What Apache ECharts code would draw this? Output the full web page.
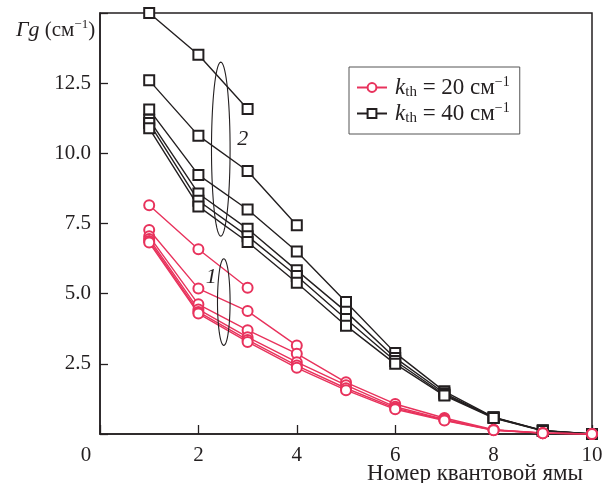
<!DOCTYPE html>
<html><head><meta charset="utf-8">
<script src="https://cdn.jsdelivr.net/npm/echarts@6/dist/echarts.min.js"></script>
<style>html,body{margin:0;padding:0;background:#fff}#c{width:603px;height:483px}</style>
</head><body><div id="c"></div>
<script>
// Quantum well number
const wells = [1, 2, 3, 4, 5, 6, 7, 8, 9, 10];
// k_th = 20 cm^-1 (group 1)
const red1 = [8.15, 6.58, 5.21];
const red2 = [7.27, 5.18, 4.38, 3.15];
const red3 = [7.05, 4.62, 3.70, 2.86, 1.84, 1.07, 0.57, 0.15, 0.04, 0.0];
const red4 = [6.95, 4.44, 3.45, 2.56, 1.74, 0.97, 0.52, 0.14, 0.03, 0.0];
const red5 = [6.88, 4.35, 3.35, 2.44, 1.63, 0.92, 0.50, 0.14, 0.03, 0.0];
const red6 = [6.82, 4.29, 3.28, 2.36, 1.56, 0.88, 0.48, 0.13, 0.03, 0.0];
// k_th = 40 cm^-1 (group 2)
const blk1 = [15.0, 13.51, 11.58];
const blk2 = [12.6, 10.63, 9.37, 7.44];
const blk3 = [11.56, 9.23, 8.00, 6.50, 4.70, 2.89, 1.52, 0.60, 0.13, 0.0];
const blk4 = [11.20, 8.57, 7.31, 5.83, 4.36, 2.71, 1.45, 0.59, 0.12, 0.0];
const blk5 = [11.08, 8.31, 7.05, 5.63, 4.10, 2.60, 1.40, 0.58, 0.12, 0.0];
const blk6 = [10.89, 8.11, 6.84, 5.39, 3.86, 2.50, 1.37, 0.57, 0.11, 0.0];
// axis ticks
const xTicks = [0, 2, 4, 6, 8, 10];
const yTicks = [2.5, 5.0, 7.5, 10.0, 12.5];
const xName = 'Номер квантовой ямы';

const RED = '#e8325c', BLK = '#231f20';
const FONT = 'Liberation Serif';

function mk(name, vals, color, sym) {
  return {
    type: 'line', name: name,
    data: vals.map((v, i) => [wells[i], v]),
    symbol: sym, symbolSize: 10,
    lineStyle: { color: color, width: 1.4 },
    itemStyle: { color: color, borderColor: color, borderWidth: 1.5 },
    emphasis: { disabled: true },
    animation: false
  };
}

const series = [
  mk('k40', blk1, BLK, 'emptyRect'), mk('k40', blk2, BLK, 'emptyRect'),
  mk('k40', blk3, BLK, 'emptyRect'), mk('k40', blk4, BLK, 'emptyRect'),
  mk('k40', blk5, BLK, 'emptyRect'), mk('k40', blk6, BLK, 'emptyRect'),
  mk('k20', red1, RED, 'emptyCircle'), mk('k20', red2, RED, 'emptyCircle'),
  mk('k20', red3, RED, 'emptyCircle'), mk('k20', red4, RED, 'emptyCircle'),
  mk('k20', red5, RED, 'emptyCircle'), mk('k20', red6, RED, 'emptyCircle')
];

const chart = echarts.init(document.getElementById('c'), null, { renderer: 'canvas' });
const richLeg = {
  k: { fontFamily: FONT, fontStyle: 'italic', fontSize: 23, color: '#231f20', lineHeight: 25 },
  s: { fontFamily: FONT, fontSize: 15, color: '#231f20', lineHeight: 14, verticalAlign: 'bottom' },
  t: { fontFamily: FONT, fontSize: 23, color: '#231f20', lineHeight: 25 },
  p: { fontFamily: FONT, fontSize: 14, color: '#231f20', lineHeight: 12, verticalAlign: 'top' }
};
chart.setOption({
  animation: false,
  backgroundColor: '#fff',
  title: {
    left: 11, top: 13,
    text: '{i|Γg}{t| (см}{p|−1}{t|)}',
    textStyle: {
      fontWeight: 'normal',
      rich: {
        i: { fontFamily: FONT, fontStyle: 'italic', fontWeight: 'normal', fontSize: 22, color: '#231f20', lineHeight: 24 },
        t: { fontFamily: FONT, fontWeight: 'normal', fontSize: 21, color: '#231f20', lineHeight: 24 },
        p: { fontFamily: FONT, fontWeight: 'normal', fontSize: 13, color: '#231f20', lineHeight: 12, verticalAlign: 'top' }
      }
    }
  },
  grid: { left: 100, right: 11, top: 13, bottom: 49, containLabel: false, outerBoundsMode: 'none', show: true, borderColor: '#231f20', borderWidth: 1.5, backgroundColor: 'transparent' },
  legend: {
    data: ['k20', 'k40'],
    orient: 'vertical', left: 349, top: 67,
    padding: [8, 10, 8, 7],
    itemGap: 1, itemWidth: 30, itemHeight: 11,
    borderColor: '#555', borderWidth: 1,
    selectedMode: false,
    formatter: n => n === 'k20' ? '{k|k}{s|th}{t| = 20 см}{p|−1}' : '{k|k}{s|th}{t| = 40 см}{p|−1}',
    textStyle: { rich: richLeg, padding: [0, 0, 0, 3] }
  },
  xAxis: {
    type: 'value', min: 0, max: 10, interval: 2,
    axisLine: { lineStyle: { color: '#231f20', width: 1.5 } },
    axisTick: { inside: true, length: 9, lineStyle: { color: '#231f20', width: 1.3 } },
    splitLine: { show: false },
    axisLabel: {
      margin: 11, fontFamily: FONT, fontSize: 21, color: '#231f20',
      formatter: v => xTicks.indexOf(v) < 0 ? '' : (v === 0 ? '{z|0}' : String(v)),
      rich: { z: { fontFamily: FONT, fontSize: 21, color: '#231f20', padding: [0, 28, 0, 0] } }
    }
  },
  yAxis: {
    type: 'value', min: 0, max: 15, interval: 2.5,
    axisLine: { lineStyle: { color: '#231f20', width: 1.5 } },
    axisTick: { inside: true, length: 8, lineStyle: { color: '#231f20', width: 1.3 } },
    splitLine: { show: false },
    axisLabel: {
      margin: 9, fontFamily: FONT, fontSize: 21, color: '#231f20',
      formatter: v => yTicks.indexOf(v) < 0 ? '' : v.toFixed(1)
    }
  },
  series: series
});

function ellipse(cx, cy, rx, ry) {
  const c = chart.convertToPixel({ gridIndex: 0 }, [cx, cy]);
  const pts = [];
  for (let i = 0; i < 72; i++) {
    const a = i / 72 * Math.PI * 2;
    pts.push([c[0] + rx * Math.cos(a), c[1] + ry * Math.sin(a)]);
  }
  return { type: 'polygon', shape: { points: pts }, style: { fill: 'none', stroke: '#231f20', lineWidth: 1.1 }, z: 10 };
}
function label(x, y, t) {
  const c = chart.convertToPixel({ gridIndex: 0 }, [x, y]);
  return { type: 'text', x: c[0], y: c[1], style: { text: t, font: 'italic 22px "Liberation Serif"', fill: '#231f20', align: 'center', verticalAlign: 'middle' }, z: 10 };
}
const corner = chart.convertToPixel({ gridIndex: 0 }, [10, 0]);
chart.setOption({
  graphic: [
    ellipse(2.455, 10.15, 9.3, 87),
    ellipse(2.516, 4.70, 6.3, 43.3),
    label(2.9, 10.5, '2'),
    label(2.26, 5.57, '1'),
    { type: 'text', x: corner[0] - 9, y: corner[1] + 40, z: 10,
      style: { text: xName, font: '23px "Liberation Serif"', fill: '#231f20', align: 'right', verticalAlign: 'middle' } }
  ]
});
</script>
</body></html>
